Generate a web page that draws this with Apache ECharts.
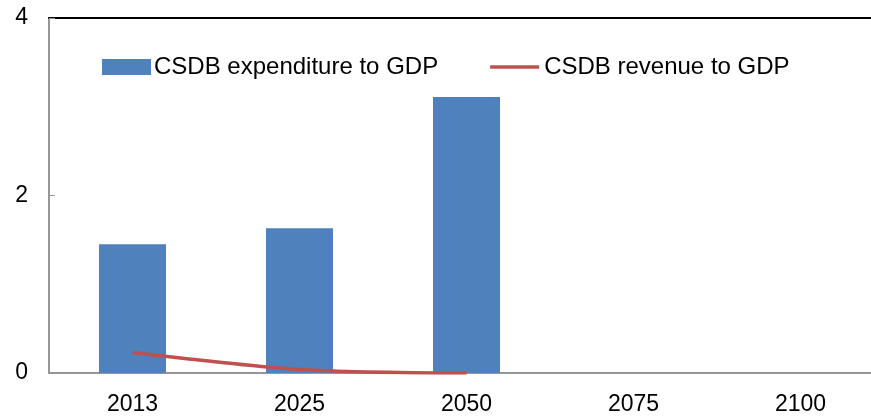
<!DOCTYPE html>
<html>
<head>
<meta charset="utf-8">
<script src="https://cdn.jsdelivr.net/npm/echarts@6/dist/echarts.min.js"></script>
<style>
  html, body { margin: 0; padding: 0; background: #fff; }
  #chart { width: 871px; height: 416px; }
</style>
</head>
<body>
<div id="chart"></div>
<script>
  // data
  var years = ['2013', '2025', '2050', '2075', '2100']
  var expenditure = [1.45, 1.63, 3.11, null, null]
  var revenue = [0.23, 0.04, 0.0, null, null]
  var yTicks = [0, 2, 4]

  var font = 'Liberation Sans, Arial, sans-serif'
  var chart = echarts.init(document.getElementById('chart'))

  chart.setOption({
    animation: false,
    textStyle: { fontFamily: font },
    // plot runs a little past the right edge of the picture
    grid: { left: 49, width: 835, top: 18, bottom: 43, outerBoundsMode: 'none' },
    legend: {
      top: 50,
      left: 97,
      itemWidth: 49,
      itemHeight: 16,
      itemGap: 52,
      textStyle: { fontSize: 24, color: '#000', fontFamily: font, padding: [0, 0, 0, -2] },
      data: [
        { name: 'CSDB expenditure to GDP', icon: 'rect' },
        {
          name: 'CSDB revenue to GDP',
          icon: 'path://M0,0H49V3.5H0Z',
          textStyle: { padding: [0, 0, 0, 0] }
        }
      ]
    },
    xAxis: [{
      type: 'category',
      data: years,
      axisLine: { lineStyle: { color: '#969696', width: 2 } },
      axisTick: { inside: true, length: 6, lineStyle: { color: '#969696' } },
      axisLabel: { fontSize: 23, color: '#000', margin: 20 }
    }, {
      // top border of the plot
      type: 'category',
      position: 'top',
      data: years,
      axisLine: { lineStyle: { color: '#000', width: 2 } },
      axisTick: { show: false },
      axisLabel: { show: false }
    }],
    yAxis: {
      type: 'value',
      min: yTicks[0],
      max: yTicks[yTicks.length - 1],
      interval: 2,
      axisLine: { show: true, lineStyle: { color: '#969696', width: 2 } },
      axisTick: { show: true, inside: true, length: 6, lineStyle: { color: '#969696' } },
      splitLine: { show: false },
      axisLabel: { fontSize: 23, color: '#000', margin: 21 }
    },
    series: [
      {
        name: 'CSDB expenditure to GDP',
        type: 'bar',
        barWidth: 67,
        itemStyle: { color: '#4F81BD' },
        data: expenditure
      },
      {
        name: 'CSDB revenue to GDP',
        type: 'line',
        smooth: 0.3,
        symbol: 'none',
        lineStyle: { color: '#C0504D', width: 3.5 },
        itemStyle: { color: '#C0504D' },
        data: revenue
      }
    ]
  })
</script>
</body>
</html>
